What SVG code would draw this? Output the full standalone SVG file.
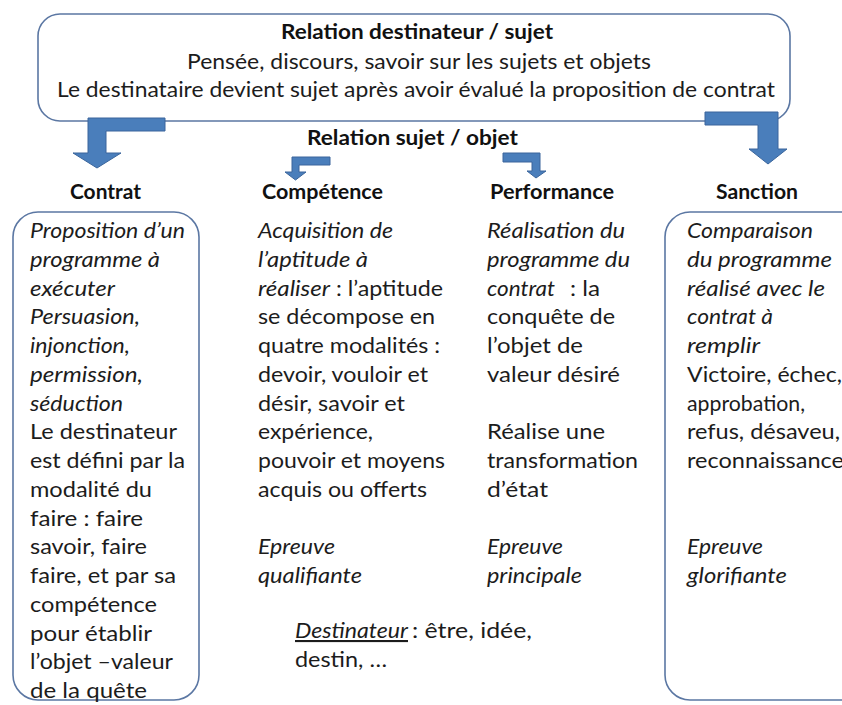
<svg xmlns="http://www.w3.org/2000/svg" width="842" height="705" viewBox="0 0 842 705">
<style>
text{font-family:Lato,"Open Sans","Liberation Sans",sans-serif;font-size:21px;fill:#1c1c1c}
.b{font-weight:bold;fill:#111}
.i{font-style:italic}
.box{fill:#fff;stroke:#5b77a3;stroke-width:1.6}
.arr{fill:#4a7ebb;stroke:#3a659c;stroke-width:1}
</style>
<rect width="842" height="705" fill="#fff"/>
<g id="top-box">
<rect class="box" x="38" y="14" width="752" height="107" rx="22"/>
<text class="b" x="281" y="39" textLength="272" lengthAdjust="spacingAndGlyphs">Relation destinateur / sujet</text>
<text x="187" y="69" textLength="464" lengthAdjust="spacingAndGlyphs">Pensée, discours, savoir sur les sujets et objets</text>
<text x="57" y="97" textLength="718" lengthAdjust="spacingAndGlyphs">Le destinataire devient sujet après avoir évalué la proposition de contrat</text>
</g>
<g id="connectors">
<polygon class="arr" points="165,118 88,118 88,153 73,153 97,168 121,153 106,153 106,131 165,131"/>
<polygon class="arr" points="705,112 778,112 778,149 787,149 768,164 749,149 758,149 758,125 705,125"/>
<polygon class="arr" points="330,157 292,157 292,172 285,172 295.5,180 306,172 299,172 299,165 330,165"/>
<polygon class="arr" points="503,153 540,153 540,171 546,171 536,178 527,171 532,171 532,162 503,162"/>
</g>
<g id="relation-sujet-objet">
<text class="b" x="307" y="145" textLength="211" lengthAdjust="spacingAndGlyphs">Relation sujet / objet</text>
</g>
<g id="contrat">
<text class="b" x="70" y="199" textLength="71" lengthAdjust="spacingAndGlyphs">Contrat</text>
<rect class="box" x="13" y="212" width="186" height="488" rx="25"/>
<text class="i" x="30" y="238" textLength="155" lengthAdjust="spacingAndGlyphs">Proposition d’un</text>
<text class="i" x="30" y="266.75" textLength="130" lengthAdjust="spacingAndGlyphs">programme à</text>
<text class="i" x="30" y="295.5" textLength="85" lengthAdjust="spacingAndGlyphs">exécuter</text>
<text class="i" x="30" y="324.25" textLength="110" lengthAdjust="spacingAndGlyphs">Persuasion,</text>
<text class="i" x="30" y="353" textLength="100" lengthAdjust="spacingAndGlyphs">injonction,</text>
<text class="i" x="30" y="381.75" textLength="113" lengthAdjust="spacingAndGlyphs">permission,</text>
<text class="i" x="30" y="410.5" textLength="93" lengthAdjust="spacingAndGlyphs">séduction</text>
<text x="30" y="439.25" textLength="147" lengthAdjust="spacingAndGlyphs">Le destinateur</text>
<text x="30" y="468" textLength="155" lengthAdjust="spacingAndGlyphs">est défini par la</text>
<text x="30" y="496.75" textLength="122" lengthAdjust="spacingAndGlyphs">modalité du</text>
<text x="30" y="525.5" textLength="113" lengthAdjust="spacingAndGlyphs">faire : faire</text>
<text x="30" y="554.25" textLength="117" lengthAdjust="spacingAndGlyphs">savoir, faire</text>
<text x="30" y="583" textLength="146" lengthAdjust="spacingAndGlyphs">faire, et par sa</text>
<text x="30" y="611.75" textLength="127" lengthAdjust="spacingAndGlyphs">compétence</text>
<text x="30" y="640.5" textLength="122" lengthAdjust="spacingAndGlyphs">pour établir</text>
<text x="30" y="669.25" textLength="143" lengthAdjust="spacingAndGlyphs">l’objet –valeur</text>
<text x="30" y="698" textLength="117" lengthAdjust="spacingAndGlyphs">de la quête</text>
</g>
<g id="competence">
<text class="b" x="262" y="199" textLength="121" lengthAdjust="spacingAndGlyphs">Compétence</text>
<text class="i" x="258" y="238" textLength="135" lengthAdjust="spacingAndGlyphs">Acquisition de</text>
<text class="i" x="258" y="266.75" textLength="110" lengthAdjust="spacingAndGlyphs">l’aptitude à</text>
<text class="i" x="258" y="295.5" textLength="72" lengthAdjust="spacingAndGlyphs">réaliser</text>
<text x="336" y="295.5" textLength="107" lengthAdjust="spacingAndGlyphs">: l’aptitude</text>
<text x="258" y="324.25" textLength="177" lengthAdjust="spacingAndGlyphs">se décompose en</text>
<text x="258" y="353" textLength="182" lengthAdjust="spacingAndGlyphs">quatre modalités :</text>
<text x="258" y="381.75" textLength="170" lengthAdjust="spacingAndGlyphs">devoir, vouloir et</text>
<text x="258" y="410.5" textLength="147" lengthAdjust="spacingAndGlyphs">désir, savoir et</text>
<text x="258" y="439.25" textLength="115" lengthAdjust="spacingAndGlyphs">expérience,</text>
<text x="258" y="468" textLength="187" lengthAdjust="spacingAndGlyphs">pouvoir et moyens</text>
<text x="258" y="496.75" textLength="169" lengthAdjust="spacingAndGlyphs">acquis ou offerts</text>
<text class="i" x="258" y="554.25" textLength="77" lengthAdjust="spacingAndGlyphs">Epreuve</text>
<text class="i" x="258" y="583" textLength="104" lengthAdjust="spacingAndGlyphs">qualifiante</text>
</g>
<g id="performance">
<text class="b" x="490" y="199" textLength="124" lengthAdjust="spacingAndGlyphs">Performance</text>
<text class="i" x="487" y="238" textLength="138" lengthAdjust="spacingAndGlyphs">Réalisation du</text>
<text class="i" x="487" y="266.75" textLength="143" lengthAdjust="spacingAndGlyphs">programme du</text>
<text class="i" x="487" y="295.5" textLength="68" lengthAdjust="spacingAndGlyphs">contrat</text>
<text x="570" y="295.5" textLength="30" lengthAdjust="spacingAndGlyphs">: la</text>
<text x="487" y="324.25" textLength="128" lengthAdjust="spacingAndGlyphs">conquête de</text>
<text x="487" y="353" textLength="96" lengthAdjust="spacingAndGlyphs">l’objet de</text>
<text x="487" y="381.75" textLength="133" lengthAdjust="spacingAndGlyphs">valeur désiré</text>
<text x="487" y="439.25" textLength="118" lengthAdjust="spacingAndGlyphs">Réalise une</text>
<text x="487" y="468" textLength="151" lengthAdjust="spacingAndGlyphs">transformation</text>
<text x="487" y="496.75" textLength="61" lengthAdjust="spacingAndGlyphs">d’état</text>
<text class="i" x="487" y="554.25" textLength="76" lengthAdjust="spacingAndGlyphs">Epreuve</text>
<text class="i" x="487" y="583" textLength="95" lengthAdjust="spacingAndGlyphs">principale</text>
</g>
<g id="sanction">
<text class="b" x="716" y="199" textLength="82" lengthAdjust="spacingAndGlyphs">Sanction</text>
<rect class="box" x="665" y="212" width="200" height="488" rx="25"/>
<text class="i" x="687" y="238" textLength="126" lengthAdjust="spacingAndGlyphs">Comparaison</text>
<text class="i" x="687" y="266.75" textLength="145" lengthAdjust="spacingAndGlyphs">du programme</text>
<text class="i" x="687" y="295.5" textLength="138" lengthAdjust="spacingAndGlyphs">réalisé avec le</text>
<text class="i" x="687" y="324.25" textLength="86" lengthAdjust="spacingAndGlyphs">contrat à</text>
<text class="i" x="687" y="353" textLength="73" lengthAdjust="spacingAndGlyphs">remplir</text>
<text x="687" y="381.75" textLength="155" lengthAdjust="spacingAndGlyphs">Victoire, échec,</text>
<text x="687" y="410.5" textLength="118" lengthAdjust="spacingAndGlyphs">approbation,</text>
<text x="687" y="439.25" textLength="153" lengthAdjust="spacingAndGlyphs">refus, désaveu,</text>
<text x="687" y="468" textLength="157" lengthAdjust="spacingAndGlyphs">reconnaissance</text>
<text class="i" x="687" y="554.25" textLength="76" lengthAdjust="spacingAndGlyphs">Epreuve</text>
<text class="i" x="687" y="583" textLength="100" lengthAdjust="spacingAndGlyphs">glorifiante</text>
</g>
<g id="destinateur-note">
<text class="i" x="295" y="638" textLength="113" lengthAdjust="spacingAndGlyphs" text-decoration="underline">Destinateur</text>
<text x="412" y="638" textLength="120" lengthAdjust="spacingAndGlyphs">: être, idée,</text>
<text x="295" y="667" textLength="92" lengthAdjust="spacingAndGlyphs">destin, …</text>
</g>
</svg>
